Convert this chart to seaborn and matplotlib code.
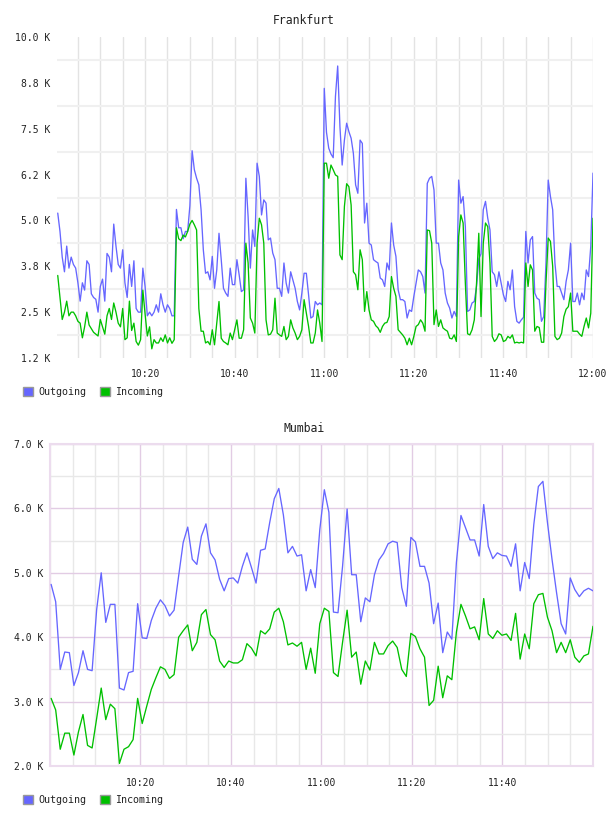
import pandas as pd
import matplotlib
matplotlib.use("Agg")
import matplotlib.pyplot as plt
import matplotlib.dates as mdates
from matplotlib.patches import Patch
from matplotlib.ticker import FuncFormatter
import seaborn as sns

# Frankfurt traffic (K), one sample every 30 s from 10:00:30 to 12:00
fra_out = [
    5.2, 4.7, 4.0, 3.6, 4.3, 3.7, 4.0, 3.8, 3.7, 3.3,
    2.8, 3.3, 3.1, 3.9, 3.8, 3.0, 2.9, 2.85, 2.5, 3.2,
    3.4, 2.8, 4.1, 4.0, 3.6, 4.9, 4.3, 3.8, 3.7, 4.2,
    3.3, 2.9, 3.8, 3.2, 3.9, 2.6, 2.5, 2.5, 3.7, 3.2,
    2.4, 2.5, 2.4, 2.5, 2.7, 2.5, 3.0, 2.7, 2.5, 2.7,
    2.6, 2.4, 2.4, 5.3, 4.8, 4.8, 4.5, 4.7, 4.7, 5.4,
    6.9,
    6.38, 6.15, 5.97, 5.29, 4.2, 3.56, 3.6, 3.38, 4.02, 3.15,
    3.65, 4.65, 3.93, 3.15, 3.02, 2.93, 3.7, 3.25, 3.25, 3.93,
    3.52, 3.06, 3.11, 6.15, 5.1, 3.7, 4.74, 4.29, 6.56, 6.2,
    5.15, 5.56, 5.47, 4.47, 4.52, 4.11, 3.93, 3.15, 3.15, 2.93,
    3.84, 3.29, 3.02, 3.6, 3.38, 3.15, 2.79, 2.56, 3.02, 3.56,
    3.56, 2.97, 2.34, 2.38, 2.79, 2.7, 2.75, 2.7, 8.6,
    7.4, 6.97, 6.81, 6.71, 8.38, 9.21, 7.56, 6.51, 7.19, 7.65,
    7.42, 7.24, 6.83, 5.97, 5.74, 7.19, 7.1, 4.93, 5.47, 4.38,
    4.33, 3.93, 3.88, 3.84, 3.43, 3.38, 3.2, 3.84, 3.65, 4.93,
    4.33, 4.02, 3.11, 2.84, 2.84, 2.79, 2.34, 2.56, 2.52, 2.93,
    3.29, 3.65, 3.6, 3.47, 3.02, 6.01, 6.15, 6.2, 5.83, 4.38,
    4.38, 3.84, 3.65, 3.02, 2.75, 2.61, 2.34, 2.52, 2.38, 6.1,
    5.47, 5.65, 4.83, 2.52, 2.56, 2.75, 2.79, 3.2, 3.95, 4.09,
    5.29, 5.52, 5.06, 4.74, 3.6, 3.52, 3.2, 3.6, 3.29, 2.97,
    2.79, 3.34, 3.11, 3.65, 2.65, 2.25, 2.2, 2.29, 2.36, 4.7,
    3.84, 4.47, 4.56, 3.02, 2.88, 2.84, 2.25, 2.38, 3.84, 6.1,
    5.65, 5.29, 3.84, 3.2, 3.2, 3.02, 2.84, 3.34, 3.65, 4.38,
    2.79, 2.79, 3.02, 2.7, 3.02, 2.84, 3.65, 3.47, 4.29, 6.29,
]
fra_in = [
    3.5, 2.9, 2.3, 2.5, 2.8, 2.4, 2.5, 2.5, 2.4, 2.25,
    2.2, 1.8, 2.1, 2.5, 2.15, 2.05, 1.95, 1.9, 1.85, 2.3,
    2.1, 1.9, 2.4, 2.6, 2.3, 2.75, 2.5, 2.2, 2.1, 2.6,
    1.75, 1.8, 2.8, 2.0, 2.2, 1.7, 1.6, 1.75, 3.1, 2.45,
    1.85, 2.1, 1.5, 1.75, 1.66, 1.66, 1.8, 1.7, 1.88, 1.66,
    1.8, 1.65, 1.75, 4.8, 4.5, 4.45, 4.6, 4.55, 4.7, 4.9,
    5.0,
    4.88, 4.74, 2.6, 1.98, 1.98, 1.66, 1.7, 1.61, 2.02, 1.61,
    2.2, 2.79, 1.79, 1.7, 1.66, 1.61, 1.93, 1.75, 2.02, 2.29,
    1.79, 1.79, 2.02, 4.38, 3.84, 2.34, 2.2, 1.93, 4.38, 5.06,
    4.88, 4.38, 2.29, 1.88, 1.9, 2.02, 2.88, 1.93, 1.88, 1.84,
    2.11, 1.75, 1.84, 2.29, 2.07, 1.93, 1.75, 1.84, 2.02, 2.84,
    2.47, 2.11, 1.66, 1.66, 1.93, 2.56, 2.2, 1.7, 6.56,
    6.56, 6.15, 6.51, 6.38, 6.24, 6.2, 4.06, 3.93, 5.38, 6.0,
    5.92, 5.42, 3.6, 3.52, 3.11, 4.2, 3.93, 2.52, 3.06, 2.56,
    2.29, 2.25, 2.13, 2.07, 1.95, 2.11, 2.2, 2.22, 2.38, 3.47,
    3.15, 2.93, 2.02, 1.95, 1.88, 1.79, 1.61, 1.79, 1.61, 1.84,
    2.11, 2.16, 2.29, 2.2, 1.98, 4.74, 4.72, 4.38, 2.16, 2.56,
    2.11, 2.29, 2.07, 2.02, 1.98, 1.79, 1.77, 1.88, 1.7, 4.56,
    5.15, 4.93, 3.29, 1.91, 1.88, 2.02, 2.29, 3.29, 4.65, 2.38,
    4.38, 4.93, 4.83, 3.84, 1.84, 1.7, 1.77, 1.91, 1.88, 1.7,
    1.73, 1.84, 1.79, 1.88, 1.66, 1.68, 1.66, 1.68, 1.66, 3.84,
    3.2, 3.79, 3.65, 1.98, 2.11, 2.08, 1.68, 1.68, 3.29, 4.52,
    4.43, 3.75, 1.84, 1.75, 1.79, 1.93, 2.38, 2.58, 2.65, 3.02,
    1.98, 1.98, 1.98, 1.9, 1.84, 2.11, 2.34, 2.07, 2.47, 5.06,
]

# Mumbai traffic (K), about one sample a minute
bom_out = [
    4.82, 4.55, 3.50, 3.77, 3.76, 3.25, 3.45, 3.79, 3.50, 3.48,
    4.43, 5.0, 4.23, 4.51, 4.51, 3.21, 3.18, 3.45, 3.47, 4.52,
    3.99, 3.98, 4.26, 4.45, 4.58, 4.49, 4.33, 4.42, 4.95, 5.47,
    5.71, 5.21, 5.13, 5.57, 5.76, 5.31, 5.20, 4.90, 4.72, 4.91,
    4.92, 4.84, 5.10, 5.31, 5.08, 4.84, 5.35, 5.37, 5.78, 6.15,
    6.31, 5.9, 5.31, 5.41, 5.26, 5.28, 4.72, 5.05, 4.77, 5.67,
    6.29, 5.94, 4.39, 4.38, 5.10, 5.99, 4.97, 4.97, 4.24, 4.61,
    4.55, 4.97, 5.20, 5.30, 5.45, 5.49, 5.47, 4.77, 4.48, 5.55,
    5.48, 5.10, 5.10, 4.84, 4.21, 4.53, 3.76, 4.08, 3.97, 5.16,
    5.89, 5.70, 5.51, 5.51, 5.26, 6.06, 5.41, 5.22, 5.31, 5.27,
    5.26, 5.10, 5.45, 4.72, 5.16, 4.91, 5.75, 6.34, 6.42, 5.78,
    5.21, 4.69, 4.21, 4.05, 4.92, 4.74, 4.63, 4.72, 4.76, 4.72,
]
bom_in = [
    3.05, 2.87, 2.26, 2.51, 2.51, 2.17, 2.53, 2.80, 2.32, 2.28,
    2.74, 3.21, 2.72, 2.96, 2.89, 2.04, 2.26, 2.30, 2.41, 3.05,
    2.66, 2.93, 3.19, 3.37, 3.54, 3.50, 3.36, 3.42, 4.0, 4.10,
    4.19, 3.79, 3.92, 4.35, 4.43, 4.04, 3.96, 3.63, 3.53, 3.63,
    3.60, 3.60, 3.65, 3.90, 3.83, 3.71, 4.10, 4.05, 4.13, 4.39,
    4.45, 4.24, 3.88, 3.91, 3.86, 3.92, 3.50, 3.83, 3.44, 4.21,
    4.45, 4.40, 3.45, 3.39, 3.92, 4.42, 3.69, 3.77, 3.27, 3.63,
    3.49, 3.92, 3.74, 3.74, 3.87, 3.94, 3.84, 3.50, 3.39, 4.06,
    4.01, 3.82, 3.69, 2.94, 3.02, 3.55, 3.06, 3.40, 3.34, 4.08,
    4.51, 4.33, 4.13, 4.16, 3.96, 4.6, 4.05, 3.98, 4.10, 4.03,
    4.05, 3.95, 4.37, 3.66, 4.05, 3.82, 4.52, 4.66, 4.68, 4.31,
    4.10, 3.76, 3.92, 3.76, 3.96, 3.69, 3.61, 3.71, 3.74, 4.17,
]

fra_yticks = [1.25, 2.5, 3.75, 5.0, 6.25, 7.5, 8.75, 10.0]
bom_yticks = [2.0, 3.0, 4.0, 5.0, 6.0, 7.0]
fra_xticks = ["10:20", "10:40", "11:00", "11:20", "11:40", "12:00"]
bom_xticks = ["10:20", "10:40", "11:00", "11:20", "11:40"]

day = "2024-01-01 "
fra_time = pd.date_range(day + "10:00:30", day + "12:00:00", periods=len(fra_out))
bom_time = pd.date_range(day + "10:00:15", day + "12:00:00", periods=len(bom_out))

fra = pd.concat([
    pd.DataFrame({"time": fra_time, "value": fra_out, "series": "Outgoing"}),
    pd.DataFrame({"time": fra_time, "value": fra_in, "series": "Incoming"}),
])
bom = pd.concat([
    pd.DataFrame({"time": bom_time, "value": bom_out, "series": "Outgoing"}),
    pd.DataFrame({"time": bom_time, "value": bom_in, "series": "Incoming"}),
])

sns.set_style("white")
plt.rcParams["font.family"] = ["DejaVu Sans Mono", "DejaVu Sans"]

colors = {"Outgoing": "#6666ff", "Incoming": "#00c000"}
text_col = "#222222"

fig = plt.figure(figsize=(6.08, 8.16), dpi=100)
ax1 = fig.add_axes([57 / 608, 1 - 358 / 816, (593 - 57) / 608, (358 - 37) / 816])
ax2 = fig.add_axes([50 / 608, 1 - 766 / 816, (593 - 50) / 608, (766 - 444) / 816])

for ax, df in [(ax1, fra), (ax2, bom)]:
    sns.lineplot(data=df, x="time", y="value", hue="series", palette=colors,
                 estimator=None, linewidth=0.95, legend=False, ax=ax, zorder=3)
    ax.set_xlabel("")
    ax.set_ylabel("")
    ax.yaxis.set_major_formatter(FuncFormatter(lambda v, p: f"{v:.1f} K"))
    ax.xaxis.set_major_formatter(mdates.DateFormatter("%H:%M"))
    ax.xaxis.set_minor_locator(mdates.MinuteLocator(byminute=range(0, 60, 5)))
    ax.tick_params(which="both", length=0, labelsize=7, labelcolor=text_col)

# Frankfurt
ax1.set_xlim(pd.Timestamp(day + "10:00:20"), pd.Timestamp(day + "12:00:00"))
ax1.set_ylim(1.25, 10.0)
ax1.set_xticks(mdates.date2num(pd.to_datetime([day + t for t in fra_xticks])))
ax1.set_yticks(fra_yticks)
ax1.set_yticks([v + 0.625 for v in fra_yticks[:-1]], minor=True)
ax1.grid(which="both", axis="x", color="#e3e3e3", linewidth=1.0, zorder=0)
ax1.grid(which="minor", axis="y", color="#f0f0f0", linewidth=1.5, zorder=0)
ax1.grid(which="major", axis="y", visible=False)
for s in ax1.spines.values():
    s.set_visible(False)
ax1.tick_params(axis="y", pad=5)
ax1.tick_params(axis="x", pad=8)

# Mumbai
ax2.set_xlim(pd.Timestamp(day + "10:00:00"), pd.Timestamp(day + "12:00:00"))
ax2.set_ylim(2.0, 7.0)
ax2.set_xticks(mdates.date2num(pd.to_datetime([day + t for t in bom_xticks])))
ax2.set_yticks(bom_yticks)
ax2.set_yticks([v + 0.5 for v in bom_yticks[:-1]], minor=True)
ax2.grid(which="major", color="#e2cce4", linewidth=1.0, zorder=0)
ax2.grid(which="minor", color="#e8e8e8", linewidth=1.0, zorder=0)
for s in ax2.spines.values():
    s.set_color("#ecdcee")
    s.set_linewidth(1.5)
ax2.tick_params(axis="y", pad=4.5)
ax2.tick_params(axis="x", pad=8.5)

fig.text(0.5, 1 - 20 / 816, "Frankfurt", ha="center", va="center",
         fontsize=8.3, color=text_col)
fig.text(0.5, 1 - 429 / 816, "Mumbai", ha="center", va="center",
         fontsize=8.3, color=text_col)

handles = [Patch(facecolor=colors[k], edgecolor="#999999", label=k) for k in colors]
for ypix in [392, 800]:
    fig.legend(handles=handles, loc="center left",
               bbox_to_anchor=(23 / 608, 1 - ypix / 816), ncol=2, frameon=False,
               fontsize=7.2, handlelength=1.0, handleheight=1.0,
               handletextpad=0.5, columnspacing=1.4, borderpad=0,
               borderaxespad=0, labelcolor=text_col)

fig.savefig("out.png", dpi=100)
